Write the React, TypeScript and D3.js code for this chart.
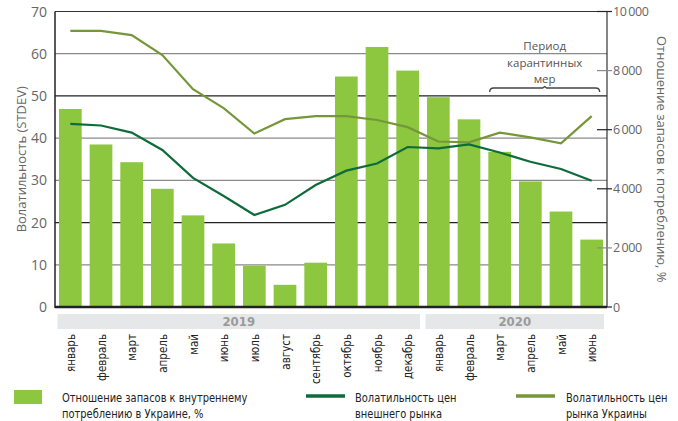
import { useEffect, useRef } from "react";
import * as d3 from "d3";

const months = [
  "январь", "февраль", "март", "апрель", "май", "июнь", "июль", "август",
  "сентябрь", "октябрь", "ноябрь", "декабрь",
  "январь", "февраль", "март", "апрель", "май", "июнь",
];
const years = [
  { label: "2019", from: 0, to: 11 },
  { label: "2020", from: 12, to: 17 },
];
// отношение запасов к потреблению, % (правая ось)
const stocksRatio = [
  6700, 5500, 4900, 4000, 3100, 2150, 1400, 750, 1500, 7800, 8800, 8000,
  7100, 6350, 5250, 4250, 3230, 2280,
];
// волатильность цен внешнего рынка (левая ось)
const worldVol = [
  43.4, 43.0, 41.3, 37.2, 30.6, 26.3, 21.8, 24.2, 28.9, 32.3, 34.0, 37.9,
  37.6, 38.5, 36.6, 34.4, 32.7, 29.9,
];
// волатильность цен рынка Украины (левая ось)
const ukraineVol = [
  65.4, 65.4, 64.4, 59.7, 51.6, 47.1, 41.1, 44.5, 45.2, 45.2, 44.3, 42.6,
  39.2, 39.0, 41.3, 40.2, 38.8, 45.2,
];
const leftTicks = [0, 10, 20, 30, 40, 50, 60, 70];
const rightTicks = [0, 2000, 4000, 6000, 8000, 10000];

const BAR = "#8dc63f";
const DARK = "#0e6b3a";
const OLIVE = "#76963a";
const NARROW = "'DejaVu Sans Condensed', 'DejaVu Sans', sans-serif";

export default function App() {
  const svgRef = useRef<SVGSVGElement>(null);

  useEffect(() => {
    const el = svgRef.current;
    if (!el) return;
    const svg = d3.select(el);
    svg.selectAll("*").remove();

    const left = 55, right = 607, top = 11.5, bottom = 307;
    const x = d3
      .scaleBand<number>()
      .domain(months.map((_, i) => i))
      .range([left, right])
      .paddingInner(0.26)
      .paddingOuter(0.13);
    const yL = d3.scaleLinear().domain([0, 70]).range([bottom, top]);
    const yR = d3.scaleLinear().domain([0, 10000]).range([bottom, top]);
    const cx = (i: number) => (x(i) as number) + x.bandwidth() / 2;
    const step = x.step();

    // narrow text helper: condensed font squeezed horizontally
    const squeeze = (sel: any, k: number) => sel.attr("transform", `scale(${k},1)`);

    // grid
    svg
      .append("g")
      .selectAll("line")
      .data(leftTicks.filter((d) => d > 0 && d < 70))
      .join("line")
      .attr("x1", left)
      .attr("x2", right)
      .attr("y1", (d) => yL(d))
      .attr("y2", (d) => yL(d))
      .attr("stroke", (d) => (d === 20 || d === 50 ? "#222" : "#8a8a8a"))
      .attr("stroke-width", 1.2);

    // frame
    svg.append("line").attr("x1", left).attr("x2", right).attr("y1", top).attr("y2", top)
      .attr("stroke", "#333").attr("stroke-width", 1.2);
    svg.append("line").attr("x1", right).attr("x2", right).attr("y1", top).attr("y2", bottom)
      .attr("stroke", "#333").attr("stroke-width", 1.2);

    // bars
    svg
      .append("g")
      .selectAll("rect")
      .data(stocksRatio)
      .join("rect")
      .attr("x", (_, i) => x(i) as number)
      .attr("width", x.bandwidth())
      .attr("y", (d) => yR(d))
      .attr("height", (d) => bottom - yR(d))
      .attr("fill", BAR);

    // lines
    const line = d3
      .line<number>()
      .x((_, i) => cx(i))
      .y((d) => yL(d));
    svg.append("path").datum(ukraineVol).attr("d", line).attr("fill", "none")
      .attr("stroke", OLIVE).attr("stroke-width", 2.2);
    svg.append("path").datum(worldVol).attr("d", line).attr("fill", "none")
      .attr("stroke", DARK).attr("stroke-width", 2.2);

    // axes lines
    svg.append("line").attr("x1", left).attr("x2", left).attr("y1", top).attr("y2", bottom + 1)
      .attr("stroke", "#222").attr("stroke-width", 1.5);
    svg.append("line").attr("x1", left).attr("x2", right).attr("y1", bottom).attr("y2", bottom)
      .attr("stroke", "#222").attr("stroke-width", 2.5);

    // left ticks
    svg
      .append("g")
      .selectAll("text")
      .data(leftTicks)
      .join("text")
      .attr("x", 47)
      .attr("y", (d) => yL(d) + 5)
      .attr("text-anchor", "end")
      .attr("fill", "#666")
      .style("font-family", "Open Sans, sans-serif")
      .style("font-size", "14px")
      .text((d) => d);

    // right ticks
    const fmt = (d: number) => d3.format(",")(d).replace(/,/g, "\u2009");
    const rt = svg.append("g");
    rt.selectAll("line")
      .data(rightTicks)
      .join("line")
      .attr("x1", (d) => (d === 0 ? right - 2 : right - 10))
      .attr("x2", right + 5)
      .attr("y1", (d) => yR(d))
      .attr("y2", (d) => yR(d))
      .attr("stroke", (d) => (d === 2000 || d === 8000 ? "#8a8a8a" : "#222"))
      .attr("stroke-width", 1.2);
    rt.selectAll("text")
      .data(rightTicks)
      .join("text")
      .attr("x", 613)
      .attr("y", (d) => yR(d) + 4.5)
      .attr("fill", "#666")
      .style("font-family", "Open Sans, sans-serif")
      .style("font-size", "12.5px")
      .style("letter-spacing", "-0.4px")
      .text((d) => fmt(d));

    // axis titles
    svg.append("text")
      .attr("transform", `translate(26,${(top + bottom) / 2}) rotate(-90)`)
      .attr("text-anchor", "middle")
      .attr("fill", "#666")
      .style("font-family", "Open Sans, sans-serif")
      .style("font-size", "13px")
      .text("Волатильность (STDEV)");
    svg.append("text")
      .attr("transform", `translate(657,${(top + bottom) / 2}) rotate(90)`)
      .attr("text-anchor", "middle")
      .attr("fill", "#666")
      .style("font-family", "Open Sans, sans-serif")
      .style("font-size", "13px")
      .text("Отношение запасов к потреблению, %");

    // year bands
    const yb = svg.append("g");
    years.forEach((y) => {
      const x0 = (x(y.from) as number) - step * 0.13 + 2.5;
      const x1 = (x(y.to) as number) + x.bandwidth() + step * 0.13 - 3;
      yb.append("rect").attr("x", x0).attr("y", 314).attr("width", x1 - x0).attr("height", 15)
        .attr("fill", "#e6e7e8");
      yb.append("text").attr("x", (x0 + x1) / 2).attr("y", 326).attr("text-anchor", "middle")
        .attr("fill", "#9a9a9a").style("font-family", NARROW)
        .style("font-weight", "bold").style("font-size", "13px").text(y.label);
    });

    // month labels
    svg
      .append("g")
      .selectAll("text")
      .data(months)
      .join("text")
      .attr("transform", (_, i) => `translate(${cx(i) + 4.5},334) rotate(-90) scale(0.92,1)`)
      .attr("text-anchor", "end")
      .attr("fill", "#222")
      .style("font-family", NARROW)
      .style("font-size", "12.5px")
      .text((d) => d);

    // quarantine annotation
    const ax = (cx(14) + cx(17)) / 2 - 1;
    ["Период", "карантинных", "мер"].forEach((t, i) => {
      svg.append("text").attr("x", ax).attr("y", 50 + i * 16.5).attr("text-anchor", "middle")
        .attr("fill", "#555").style("font-family", "Open Sans, sans-serif")
        .style("font-size", "11.5px").text(t);
    });
    const bx0 = cx(14) - 10, bx1 = cx(17) + 8, by = 88;
    svg.append("path")
      .attr("d", `M${bx0},${by + 4} Q${bx0},${by} ${bx0 + 4},${by} L${ax - 2},${by} L${ax},${by - 1.5} L${ax + 2},${by} L${bx1 - 4},${by} Q${bx1},${by} ${bx1},${by + 4}`)
      .attr("fill", "none").attr("stroke", "#444").attr("stroke-width", 1.4);

    // legend
    const lg = svg.append("g").style("font-family", NARROW)
      .style("font-size", "12.5px").attr("fill", "#222");
    const ltext = (tx: number, ty: number, t: string) =>
      squeeze(lg.append("g").attr("transform", `translate(${tx},${ty})`).append("text"), 0.88).text(t);
    lg.append("rect").attr("x", 14).attr("y", 390).attr("width", 28).attr("height", 14).attr("fill", BAR);
    ltext(62, 402, "Отношение запасов к внутреннему");
    ltext(62, 418, "потреблению в Украине, %");
    lg.append("line").attr("x1", 306).attr("x2", 345).attr("y1", 396).attr("y2", 396)
      .attr("stroke", DARK).attr("stroke-width", 3.5);
    ltext(355, 402, "Волатильность цен");
    ltext(355, 418, "внешнего рынка");
    lg.append("line").attr("x1", 516).attr("x2", 555).attr("y1", 396).attr("y2", 396)
      .attr("stroke", OLIVE).attr("stroke-width", 3.5);
    ltext(566, 402, "Волатильность цен");
    ltext(566, 418, "рынка Украины");
  }, []);

  return (
    <svg
      ref={svgRef}
      width={678}
      height={421}
      style={{ position: "absolute", left: 0, top: 0, background: "#fff" }}
    />
  );
}
